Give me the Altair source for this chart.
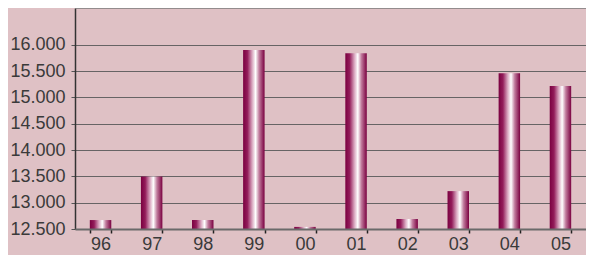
import altair as alt
import pandas as pd

years = ["96", "97", "98", "99", "00", "01", "02", "03", "04", "05"]
values = [12670, 13500, 12670, 15900, 12540, 15840, 12690, 13220, 15460, 15220]
y_ticks = [12500, 13000, 13500, 14000, 14500, 15000, 15500, 16000]
y_base = 12500
y_top = 16700

df = pd.DataFrame({"year": years, "value": values})

BG = "#dfc1c5"
TXT = "#3a3a3a"
FONT = "Liberation Sans"

grad = alt.Gradient(
    gradient="linear",
    x1=0, x2=1, y1=0, y2=0,
    stops=[
        alt.GradientStop(offset=0.0, color="#7a0040"),
        alt.GradientStop(offset=0.2, color="#931c5a"),
        alt.GradientStop(offset=0.42, color="#d9a6bf"),
        alt.GradientStop(offset=0.58, color="#ffffff"),
        alt.GradientStop(offset=0.75, color="#c07a9c"),
        alt.GradientStop(offset=1.0, color="#7a0040"),
    ],
)

y_scale = alt.Scale(domain=[y_base, y_top], zero=False, nice=False)

y_axis = alt.Axis(
    values=y_ticks,
    labelExpr="replace(format(datum.value, ','), ',', '.')",
    labelOverlap=False,
    labelFont=FONT,
    labelFontSize=18,
    labelColor=TXT,
    labelPadding=6,
    tickSize=4,
    tickColor="#555555",
    domainColor="#333333",
    domainWidth=1.5,
    grid=True,
    gridColor="#5a5a5a",
    gridWidth=1,
    gridOpacity=0.9,
)

x_enc = alt.X(
    "year:N",
    sort=years,
    title=None,
    scale=alt.Scale(paddingInner=0.58, paddingOuter=0.29),
    axis=alt.Axis(
        labelAngle=0,
        labelFont=FONT,
        labelFontSize=18,
        labelColor=TXT,
        labelPadding=2,
        tickBand="extent",
        tickSize=4,
        tickColor="#222222",
        tickWidth=1.5,
        domainColor="#6a6a6a",
        domainWidth=2,
        grid=False,
        zindex=1,
    ),
)

bars = alt.Chart(df).mark_bar(color=grad).encode(
    x=x_enc,
    y=alt.Y("value:Q", title=None, scale=y_scale, axis=y_axis),
    y2=alt.Y2(datum=y_base),
)

top_df = pd.DataFrame({"top": [y_top]})
top_rule = alt.Chart(top_df).mark_rule(color="#7a7a7a", strokeWidth=1.5).encode(
    y=alt.Y("top:Q", title=None, scale=y_scale, axis=y_axis)
)

chart = (
    alt.layer(bars, top_rule)
    .properties(
        width=511,
        height=221,
        autosize=alt.AutoSizeParams(type="none"),
        padding={"left": 67, "top": 0, "right": 0, "bottom": 26},
        background=BG,
    )
    .configure_view(stroke=None)
)

chart.save("out.html", embed_options={"renderer": "svg", "actions": False})
